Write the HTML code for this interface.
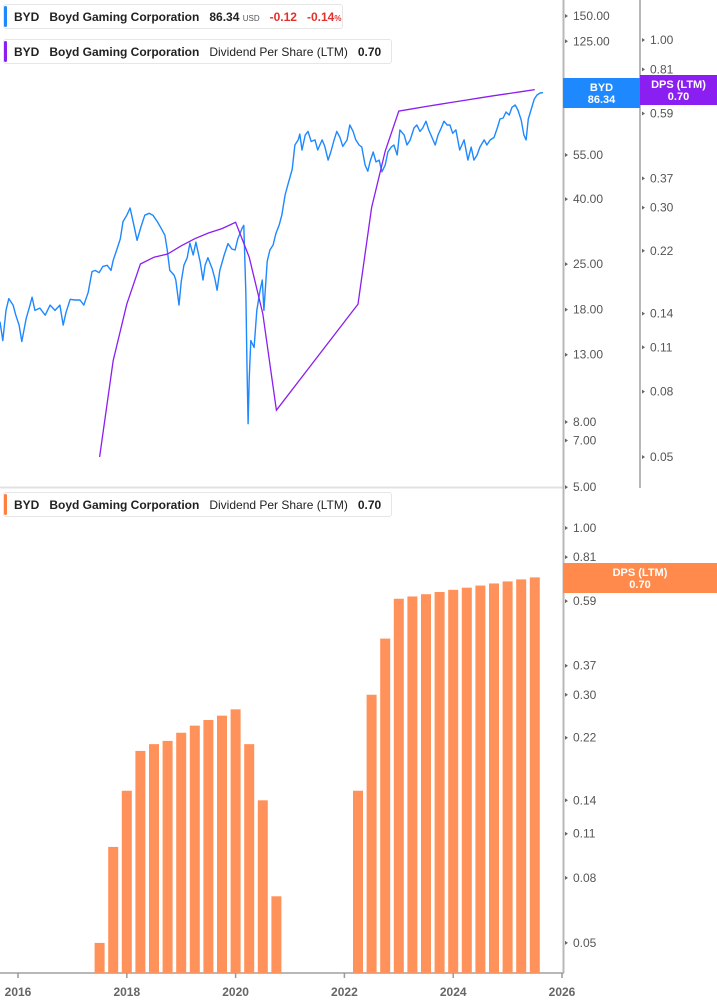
<!DOCTYPE html>
<html><head><meta charset="utf-8">
<style>
body{margin:0;width:717px;height:1005px;background:#fff;overflow:hidden;font-family:"Liberation Sans",sans-serif;}
.leg{position:absolute;left:3px;height:25px;background:#fff;border:1px solid #e6e6e6;border-radius:3px;font-size:12px;font-weight:bold;color:#222;line-height:25px;white-space:nowrap;box-sizing:border-box;padding-left:10px;}
.leg .bar{position:absolute;left:0;top:1px;bottom:1px;width:3px;border-radius:2px;}
.leg span{margin-right:10px;}
.n{font-weight:normal;}
</style></head>
<body>
<svg id="chart" width="717" height="1005" style="position:absolute;left:0;top:0" font-family="Liberation Sans, sans-serif"></svg>

<div class="leg" style="top:4px;width:340px;">
<div class="bar" style="background:#1e88ff"></div>
<span>BYD</span><span>Boyd Gaming Corporation</span><span>86.34 <small style="font-size:8px;font-weight:normal;color:#555">USD</small></span><span style="color:#e0312c">-0.12</span><span style="color:#e0312c">-0.14<small style="font-size:8px">%</small></span>
</div>
<div class="leg" style="top:39px;width:389px;">
<div class="bar" style="background:#8b1ef0"></div>
<span>BYD</span><span>Boyd Gaming Corporation</span><span class="n">Dividend Per Share (LTM)</span><span>0.70</span>
</div>
<div class="leg" style="top:492px;width:389px;">
<div class="bar" style="background:#ff7f3f"></div>
<span>BYD</span><span>Boyd Gaming Corporation</span><span class="n">Dividend Per Share (LTM)</span><span>0.70</span>
</div>

<script>
const priceDates=[2015.67,2015.72,2015.78,2015.83,2015.91,2015.96,2016.02,2016.07,2016.15,2016.22,2016.26,2016.31,2016.40,2016.50,2016.59,2016.68,2016.77,2016.83,2016.88,2016.96,2017.05,2017.14,2017.21,2017.29,2017.36,2017.42,2017.49,2017.56,2017.64,2017.71,2017.75,2017.82,2017.88,2017.93,2018.00,2018.06,2018.13,2018.19,2018.26,2018.33,2018.41,2018.48,2018.56,2018.63,2018.70,2018.74,2018.79,2018.87,2018.90,2018.96,2019.00,2019.05,2019.11,2019.16,2019.22,2019.27,2019.35,2019.40,2019.44,2019.49,2019.57,2019.62,2019.66,2019.71,2019.79,2019.86,2019.93,2019.99,2020.04,2020.12,2020.15,2020.19,2020.21,2020.23,2020.25,2020.28,2020.34,2020.39,2020.45,2020.49,2020.52,2020.58,2020.63,2020.69,2020.74,2020.80,2020.85,2020.91,2020.96,2021.04,2021.09,2021.15,2021.18,2021.22,2021.28,2021.33,2021.39,2021.46,2021.51,2021.59,2021.64,2021.70,2021.75,2021.81,2021.86,2021.92,2021.97,2022.05,2022.10,2022.16,2022.21,2022.27,2022.32,2022.38,2022.43,2022.47,2022.53,2022.58,2022.64,2022.69,2022.75,2022.80,2022.86,2022.91,2022.97,2023.02,2023.10,2023.15,2023.21,2023.28,2023.33,2023.39,2023.44,2023.50,2023.55,2023.61,2023.67,2023.72,2023.78,2023.83,2023.89,2023.94,2023.99,2024.05,2024.12,2024.20,2024.27,2024.33,2024.38,2024.44,2024.49,2024.57,2024.62,2024.68,2024.75,2024.81,2024.86,2024.92,2024.97,2025.03,2025.08,2025.14,2025.19,2025.25,2025.30,2025.34,2025.38,2025.43,2025.49,2025.54,2025.60,2025.65];
const priceValues=[16.5,14.4,17.9,19.5,18.6,17.3,16.1,14.3,16.9,18.6,19.7,17.9,18.2,17.3,18.6,17.9,18.6,16.1,17.6,19.4,19.3,19.3,18.6,20.4,23.7,23.9,23.5,24.6,24.8,23.9,25.7,27.9,30.0,34.0,35.6,37.5,33.1,29.7,32.7,35.6,36.1,35.6,34.0,32.4,30.8,27.9,23.9,23.1,22.3,18.6,22.0,24.8,26.2,29.1,26.7,29.3,25.4,22.3,24.8,26.2,24.2,22.5,20.7,23.9,26.7,29.0,27.9,27.7,30.0,32.4,33.1,20.0,11.9,7.9,10.9,14.4,13.7,17.9,20.7,22.3,17.9,25.5,27.7,28.7,31.2,33.1,35.6,41.2,44.3,49.6,59.1,61.3,64.0,57.0,63.5,65.2,60.6,61.3,57.0,61.3,58.5,53.0,56.2,61.3,65.2,62.4,58.5,61.3,68.3,65.2,61.3,59.1,58.2,51.1,48.9,52.3,56.2,52.3,53.0,48.7,51.1,56.2,58.2,59.1,55.0,65.9,63.5,59.1,61.3,66.8,68.3,65.2,66.8,70.2,65.9,62.4,59.1,63.5,66.8,70.2,68.3,68.3,64.3,65.9,57.0,61.3,53.0,58.2,53.0,55.0,58.2,61.3,59.1,61.3,62.4,66.8,71.3,71.8,75.0,73.4,77.6,78.9,76.1,70.8,63.5,61.3,71.3,76.1,82.4,84.8,86.0,86.3];
const dpsDates=[2017.5,2017.75,2018.0,2018.25,2018.5,2018.75,2019.0,2019.25,2019.5,2019.75,2020.0,2020.25,2020.5,2020.75,2021.0,2021.25,2021.5,2021.75,2022.0,2022.25,2022.5,2022.75,2023.0,2023.25,2023.5,2023.75,2024.0,2024.25,2024.5,2024.75,2025.0,2025.25,2025.5];
const dpsValues=[0.05,0.10,0.15,0.20,0.21,0.215,0.228,0.24,0.25,0.258,0.27,0.21,0.14,0.07,null,null,null,null,null,0.15,0.30,0.45,0.60,0.61,0.62,0.63,0.64,0.65,0.66,0.67,0.68,0.69,0.70];
const priceTicks=[150,125,90,55,40,25,18,13,8,7,5];
const dpsTopTicks=[1.00,0.81,0.59,0.37,0.30,0.22,0.14,0.11,0.08,0.05];
const dpsBottomTicks=[1.00,0.81,0.59,0.37,0.30,0.22,0.14,0.11,0.08,0.05];
const yearTicks=[2016,2018,2020,2022,2024,2026];

const NS='http://www.w3.org/2000/svg';
const svg=document.getElementById('chart');
function el(tag,attrs,parent){const e=document.createElementNS(NS,tag);for(const k in attrs)e.setAttribute(k,attrs[k]);(parent||svg).appendChild(e);return e;}
const xS=t=>18+(t-2016)*54.4;
const yPrice=v=>16+(Math.log(150)-Math.log(v))*138.5;
const yDpsTop=v=>40-Math.log(v)*139.2;
const yDpsBot=v=>528-Math.log(v)*138.5;
const BASE=973;

// gridlines / axes
let a;
a=el('line',{x1:0,y1:487.5,x2:563,y2:487.5,stroke:'#e2e2e2','stroke-width':2});


a=el('line',{x1:563.5,y1:0,x2:563.5,y2:973,stroke:'#b8b8b8','stroke-width':2});


a=el('line',{x1:640,y1:0,x2:640,y2:488,stroke:'#b8b8b8','stroke-width':2});


a=el('line',{x1:0,y1:BASE,x2:564,y2:BASE,stroke:'#b8b8b8','stroke-width':2});



function tickLabel(x,y,txt,name){
  const g=el('g',{});
  
  
  el('path',{d:`M${x},${y-2} L${x+3},${y} L${x},${y+2}Z`,fill:'#666'},g);
  const t=el('text',{x:x+8,y:y+4,'font-size':12,fill:'#555'},g);
  t.textContent=txt;
}
priceTicks.forEach(v=>tickLabel(565,yPrice(v),v.toFixed(2),'price-tick-label'));
dpsTopTicks.forEach(v=>tickLabel(642,yDpsTop(v),v.toFixed(2),'dps-top-tick-label'));
dpsBottomTicks.forEach(v=>tickLabel(565,yDpsBot(v),v.toFixed(2),'dps-bottom-tick-label'));
yearTicks.forEach(y=>{
  const x=xS(y);
  const g=el('g',{});
  
  
  el('line',{x1:x,y1:BASE,x2:x,y2:BASE+5,stroke:'#999','stroke-width':1.5},g);
  const t=el('text',{x:x,y:BASE+23,'font-size':12,'font-weight':'bold',fill:'#666','text-anchor':'middle'},g);
  t.textContent=y;
});

// price line
let d='';
priceDates.forEach((t,i)=>{d+=(i?'L':'M')+xS(t).toFixed(1)+','+yPrice(priceValues[i]).toFixed(1);});
a=el('path',{d:d,fill:'none',stroke:'#1e88ff','stroke-width':1.4,'stroke-linejoin':'round'});



// dps line (skip nulls, connect)
d='';let first=true;
dpsDates.forEach((t,i)=>{const v=dpsValues[i];if(v==null)return;d+=(first?'M':'L')+xS(t).toFixed(1)+','+yDpsTop(v).toFixed(1);first=false;});
a=el('path',{d:d,fill:'none',stroke:'#8b1ef0','stroke-width':1.3});



// bars
dpsDates.forEach((t,i)=>{
  const v=dpsValues[i];if(v==null)return;
  const y=yDpsBot(v);
  const r=el('rect',{x:xS(t)-5,y:y,width:10,height:BASE-y,fill:'#ff915a'});
  
  
});

// value badges
function badge(x,y,w,h,fill,l1,l2,name){
  const g=el('g',{});
  
  
  el('rect',{x:x,y:y,width:w,height:h,fill:fill},g);
  const t1=el('text',{x:x+w/2,y:y+h/2-2,'font-size':11,'font-weight':'bold',fill:'#fff','text-anchor':'middle'},g);t1.textContent=l1;
  const t2=el('text',{x:x+w/2,y:y+h/2+10,'font-size':11,'font-weight':'bold',fill:'#fff','text-anchor':'middle'},g);t2.textContent=l2;
}
badge(563,78,77,30,'#1e88ff','BYD','86.34','price-badge');
badge(640,75,77,30,'#8b1ef0','DPS (LTM)','0.70','dps-top-badge');
badge(563,563,154,30,'#ff8a4c','DPS (LTM)','0.70','dps-bottom-badge');
</script>
</body></html>
